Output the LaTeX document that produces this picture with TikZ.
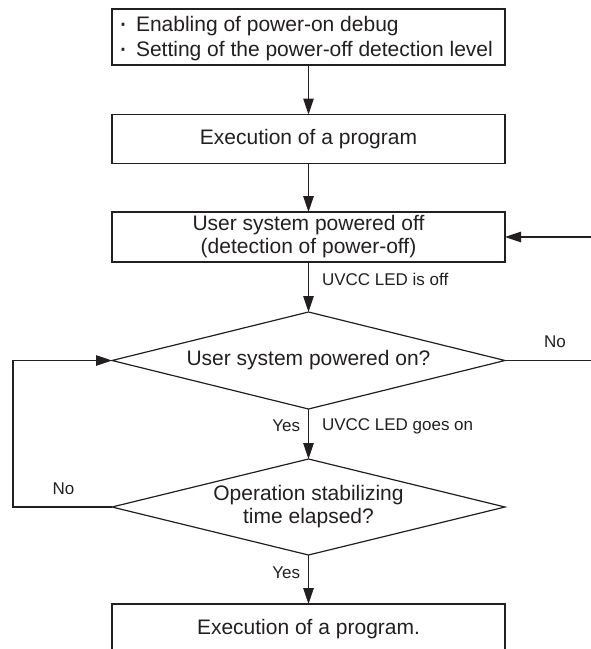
\documentclass[tikz,border=0pt]{standalone}
\usepackage{fontspec}
\setmainfont{Liberation Sans}
\usetikzlibrary{shapes.geometric,arrows.meta}
\definecolor{ink}{RGB}{35,31,32}
\newcommand{\mybul}{\makebox[23pt][l]{\hspace{5.5pt}\raisebox{-0.6pt}{\scalebox{1.35}{·}}}}
\begin{document}
\begin{tikzpicture}[x=1pt,y=-1pt,
  every node/.style={font=\fontsize{21}{23}\selectfont, text=ink, inner sep=0pt, outer sep=0pt},
  box/.style={draw=ink, line width=1.2pt, minimum width=393pt, align=center},
  dia/.style={draw=ink, line width=1.2pt, diamond, aspect=4.05, minimum width=393pt, align=center},
  lbl/.style={font=\fontsize{17}{19}\selectfont},
  arr/.style={draw=ink, line width=1.2pt, -{Triangle[length=16pt,width=10.5pt]}},
  ln/.style={draw=ink, line width=1.2pt}]
\useasboundingbox (0,0) rectangle (591,649);

\node[box, minimum height=56pt] (b1) at (308.5,37) {};
\node[anchor=west, align=left, font=\fontsize{21}{25}\selectfont] (t1) at (113,39)
  {\mybul Enabling of power-on debug\\
   \mybul Setting of the power-off detection level};
\node[box, minimum height=49pt] (b2) at (308.5,139) {Execution of a program};
\node[box, minimum height=50pt] (b3) at (308.5,237) {User system powered off\\(detection of power-off)};
\node[dia, minimum height=97pt] (d1) at (308.5,360.5) {User system powered on?};
\node[dia, minimum height=96pt] (d2) at (308.5,507) {Operation stabilizing\\time elapsed?};
\node[box, minimum height=50pt] (b5) at (308.5,629) {Execution of a program.};

\coordinate (rin) at (591,237);
\coordinate (rout) at (591,360.5);
\coordinate (lc) at (13,507);

\draw[arr] (b1) -- (b2);
\draw[arr] (b2) -- (b3);
\draw[arr] (b3) -- node[lbl, pos=0.34, anchor=west, xshift=13.5pt] {UVCC LED is off} (d1);
\draw[arr] (rin) -- (b3);
\draw[ln] (d1.east) -- node[lbl, pos=0.58, yshift=18.5pt] {No} (rout);
\draw[arr] (d1.south) -- node[lbl, pos=0.34, anchor=east, xshift=-8.5pt] {Yes}
                         node[lbl, pos=0.34, anchor=west, xshift=13.5pt] {UVCC LED goes on} (d2.north);
\draw[arr] (d2.south) -- node[lbl, pos=0.37, anchor=east, xshift=-8.5pt] {Yes} (b5);
\draw[arr] (d2.west) -- node[lbl, pos=0.49, yshift=18pt] {No} (lc) |- (d1.west);
\end{tikzpicture}
\end{document}
